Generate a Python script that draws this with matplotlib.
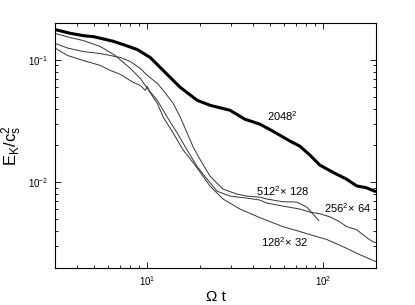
import matplotlib
matplotlib.use('Agg')
import matplotlib.pyplot as plt
from matplotlib.ticker import NullFormatter

# fonte parecida com Helvetica
plt.rcParams['font.family'] = ['Liberation Sans', 'DejaVu Sans']
plt.rcParams['mathtext.fontset'] = 'custom'
plt.rcParams['mathtext.rm'] = 'Liberation Sans'
plt.rcParams['mathtext.it'] = 'Liberation Sans:italic'
plt.rcParams['mathtext.default'] = 'regular'

# 2048^2 (linha grossa)
t_2048 = [3.03, 3.68, 4.36, 4.97, 5.66, 6.44, 7.34, 8.81, 10.44, 12.37, 15.44,
          19.27, 22.82, 29.63, 36.0, 43.8, 51.9, 64.8, 73.8, 84.1, 95.7,
          113.5, 136.2, 155.2, 176.8, 196.3]
e_2048 = [0.1762, 0.1645, 0.1576, 0.1546, 0.1481, 0.1416, 0.1331, 0.1213,
          0.1044, 0.0818, 0.0596, 0.0467, 0.0425, 0.0387, 0.0327, 0.0298,
          0.0261, 0.0217, 0.0197, 0.0167, 0.01383, 0.01206, 0.01058,
          0.00933, 0.00899, 0.00845]

# 512^2 x 128
t_512 = [3.03, 3.54, 4.36, 5.44, 6.20, 7.06, 8.04, 9.16, 10.04, 11.44, 12.37,
         14.09, 15.44, 16.91, 18.29, 20.04, 22.82, 27.04, 32.46, 36.98, 43.8,
         47.98, 59.1, 70.9, 80.9, 87.4, 94.6]
e_512 = [0.1357, 0.1247, 0.1168, 0.1125, 0.1084, 0.1044, 0.0969, 0.0850,
         0.0746, 0.0642, 0.0563, 0.0441, 0.0340, 0.0252, 0.0194, 0.01527,
         0.01119, 0.00877, 0.00799, 0.00769, 0.00755, 0.00728, 0.00692,
         0.00688, 0.00626, 0.00552, 0.00485]

# 256^2 x 64
t_256 = [3.03, 3.68, 4.36, 5.44, 6.61, 8.04, 9.16, 10.04, 11.44, 13.03, 14.85,
         16.91, 19.27, 21.95, 25.0, 29.63, 36.98, 43.8, 47.98, 59.1, 73.8,
         84.1, 95.7, 109.1, 124.3, 136.2, 155.2, 176.8, 191.1, 199.0]
e_256 = [0.1636, 0.1518, 0.1436, 0.1283, 0.1084, 0.0850, 0.0705, 0.0584,
         0.0467, 0.0340, 0.0252, 0.0183, 0.01342, 0.01058, 0.00845, 0.00769,
         0.00741, 0.00714, 0.00675, 0.00638, 0.00603, 0.00570, 0.00552,
         0.00522, 0.00475, 0.00433, 0.00409, 0.00353, 0.00327, 0.00321]

# 128^2 x 32
t_128 = [3.03, 3.54, 4.36, 5.44, 6.20, 7.06, 8.36, 9.16, 9.78, 10.04, 10.30,
         11.44, 12.37, 14.09, 16.05, 18.29, 20.04, 22.82, 27.04, 33.75, 43.8,
         59.1, 70.9, 84.1, 105.0, 129.3, 161.4, 199.0]
e_128 = [0.1236, 0.1084, 0.0987, 0.0899, 0.0818, 0.0760, 0.0654, 0.0618,
         0.0563, 0.0607, 0.0553, 0.0441, 0.0340, 0.0252, 0.0183, 0.01446,
         0.01206, 0.00928, 0.00728, 0.00603, 0.00513, 0.00433, 0.00402,
         0.00373, 0.00340, 0.00298, 0.00256, 0.00225]

# rotulos das curvas (texto, t, E)
rotulos = [(r'$2048^2$', 59.1, 0.0346),
           (r'$512^2\!\times\,128$', 59.1, 0.0085),
           (r'$256^2\!\times\,64$', 138.0, 0.00618),
           (r'$128^2\!\times\,32$', 60.7, 0.00321)]

fig = plt.figure(figsize=(4.15, 3.05), dpi=100)
ax = fig.add_axes([0.1325, 0.1223, 0.7735, 0.8023])

ax.loglog(t_2048, e_2048, color='black', lw=2.2)
ax.loglog(t_512, e_512, color='#333333', lw=0.7)
ax.loglog(t_256, e_256, color='#333333', lw=0.7)
ax.loglog(t_128, e_128, color='#333333', lw=0.7)

for txt, tx, ey in rotulos:
    ax.text(tx, ey, txt, fontsize=8, ha='center', va='center')

ax.set_xlim(3, 200)
ax.set_ylim(0.002, 0.2)
ax.xaxis.set_minor_formatter(NullFormatter())
ax.yaxis.set_minor_formatter(NullFormatter())
ax.tick_params(which='both', direction='in', top=True, right=True, labelsize=7)
ax.tick_params(which='major', length=4, width=0.6, pad=5)
ax.tick_params(which='minor', length=2, width=0.6)
for s in ax.spines.values():
    s.set_linewidth(0.8)

ax.set_xlabel('Ω t', fontsize=11, labelpad=1)
ax.set_ylabel(r'$E_K/c_s^2$', fontsize=12)
ax.yaxis.set_label_coords(-0.095, 0.5)

plt.savefig('out.png', dpi=100)
